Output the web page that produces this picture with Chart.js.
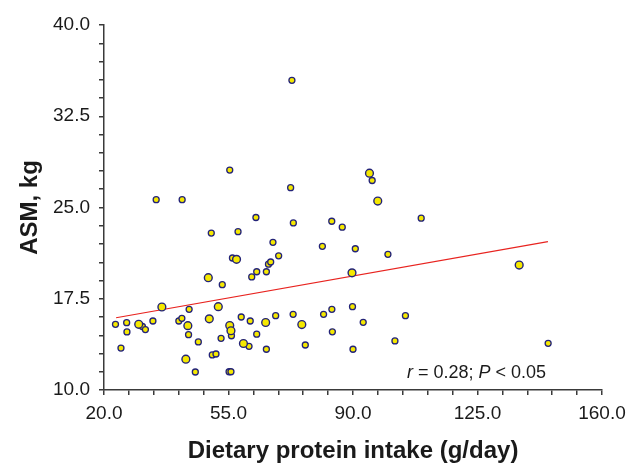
<!DOCTYPE html>
<html>
<head>
<meta charset="utf-8">
<script src="https://cdn.jsdelivr.net/npm/chart.js@4.4.1/dist/chart.umd.min.js"></script>
<style>
  html, body { margin: 0; padding: 0; background: #ffffff; }
  #wrap { width: 635px; height: 466px; position: relative; }
</style>
</head>
<body>
<div id="wrap"><canvas id="c"></canvas></div>
<script>
// Dietary protein intake (g/day) vs ASM (kg) — small markers
const intakeSmall = [23.23, 24.77, 26.37, 26.45, 30.80, 31.64, 33.75, 34.67, 41.04, 41.89,
  41.97, 43.77, 43.93, 45.67, 46.52, 50.16, 50.44, 51.48, 52.91, 53.25,
  55.16, 55.69, 55.83, 55.35, 56.11, 57.68, 58.58, 60.77, 61.11, 61.53,
  62.71, 62.93, 62.93, 65.65, 65.65, 66.24, 66.86, 67.50, 68.26, 69.10,
  72.47, 72.83, 73.17, 73.23, 76.59, 81.39, 81.73, 84.03, 84.06, 84.20,
  86.98, 89.86, 90.00, 90.65, 92.87, 95.39, 99.82, 101.79, 104.74, 109.17,
  144.86];
const asmSmall = [15.40, 13.45, 15.53, 14.77, 15.22, 14.97, 15.67, 25.64, 15.67, 15.89,
  25.64, 14.55, 16.63, 11.48, 13.95, 22.90, 12.88, 12.96, 14.25, 18.66,
  11.50, 11.50, 14.46, 28.08, 20.85, 23.01, 16.00, 13.59, 15.67, 19.29,
  24.18, 14.59, 19.72, 19.72, 13.35, 20.34, 20.52, 22.14, 16.11, 21.03,
  26.63, 35.45, 16.22, 23.73, 13.70, 21.81, 16.22, 23.87, 16.63, 14.78,
  23.38, 16.85, 13.35, 21.61, 15.56, 27.22, 21.15, 14.03, 16.11, 24.12,
  13.84];
// larger markers
const intakeLarge = [29.76, 36.27, 43.01, 43.57, 49.32, 49.60, 52.13, 55.35, 55.69, 57.26,
  59.20, 65.45, 75.61, 89.72, 94.63, 96.96, 136.72];
const asmLarge = [15.40, 16.82, 12.53, 15.29, 19.23, 15.85, 16.85, 15.30, 14.87, 20.74,
  13.82, 15.55, 15.38, 19.63, 27.82, 25.53, 20.27];
// regression line end points
const fitIntake = [23.4, 144.8];
const fitAsm = [15.94, 22.19];
// axis ticks
const xTickLabels = [20, 55, 90, 125, 160];
const yTickLabels = [10, 17.5, 25, 32.5, 40];
const statText = [['r', true], [' = 0.28; ', false], ['P', true], [' < 0.05', false]];

const toPts = (xs, ys) => xs.map((x, i) => ({ x: x, y: ys[i] }));
const FONT = "'Liberation Sans', Arial, sans-serif";
const AXIS = '#3a3a3a';
const TXT = '#1a1a1a';

const statPlugin = {
  id: 'stat',
  afterDraw(chart) {
    const ctx = chart.ctx;
    const { right, bottom } = chart.chartArea;
    ctx.save();
    ctx.fillStyle = TXT;
    ctx.textBaseline = 'alphabetic';
    ctx.textAlign = 'left';
    const size = 18;
    let total = 0;
    statText.forEach(([t, it]) => {
      ctx.font = (it ? 'italic ' : '') + size + 'px ' + FONT;
      total += ctx.measureText(t).width;
    });
    let x = right - 56 - total;
    const y = bottom - 12;
    statText.forEach(([t, it]) => {
      ctx.font = (it ? 'italic ' : '') + size + 'px ' + FONT;
      ctx.fillText(t, x, y);
      x += ctx.measureText(t).width;
    });
    ctx.restore();
  }
};

new Chart(document.getElementById('c'), {
  type: 'scatter',
  data: {
    datasets: [
      {
        type: 'line',
        data: toPts(fitIntake, fitAsm),
        borderColor: '#e8231f',
        borderWidth: 1.2,
        pointRadius: 0,
        fill: false,
        order: 3
      },
      {
        data: toPts(intakeSmall, asmSmall),
        backgroundColor: '#f5e800',
        borderColor: '#232378',
        borderWidth: 1.3,
        pointRadius: 3,
        order: 2
      },
      {
        data: toPts(intakeLarge, asmLarge),
        backgroundColor: '#f5e800',
        borderColor: '#232378',
        borderWidth: 1.4,
        pointRadius: 3.9,
        order: 1
      }
    ]
  },
  options: {
    responsive: true,
    maintainAspectRatio: false,
    animation: false,
    layout: { padding: { top: 25, right: 33, left: 0, bottom: 0 } },
    plugins: { legend: { display: false }, tooltip: { enabled: false } },
    scales: {
      x: {
        type: 'linear',
        min: 20, max: 160,
        afterFit: (s) => { s.height = 76; },
        border: { display: true, color: AXIS, width: 1.5 },
        grid: { drawOnChartArea: false, drawTicks: true, tickLength: 5, color: AXIS, lineWidth: 1.5 },
        ticks: {
          stepSize: 7, autoSkip: false, maxRotation: 0, padding: 7,
          color: TXT, font: { family: FONT, size: 19 },
          callback: (v) => xTickLabels.some(t => Math.abs(t - v) < 1e-6) ? v.toFixed(1) : ''
        },
        title: {
          display: true, text: 'Dietary protein intake (g/day)', color: TXT,
          font: { family: FONT, size: 24, weight: 'bold' },
          padding: { top: 0, bottom: 0 }
        }
      },
      y: {
        type: 'linear',
        min: 10, max: 40,
        afterFit: (s) => { s.width = 104; },
        border: { display: true, color: AXIS, width: 1.5 },
        grid: { drawOnChartArea: false, drawTicks: true, tickLength: 5, color: AXIS, lineWidth: 1.5 },
        ticks: {
          stepSize: 1.5, autoSkip: false, padding: 9,
          color: TXT, font: { family: FONT, size: 19 },
          callback: (v) => yTickLabels.some(t => Math.abs(t - v) < 1e-6) ? v.toFixed(1) : ''
        },
        title: {
          display: true, text: 'ASM, kg', color: TXT,
          font: { family: FONT, size: 24, weight: 'bold' },
          padding: { top: 16, bottom: 0 }
        }
      }
    }
  },
  plugins: [statPlugin]
});
</script>
</body>
</html>
